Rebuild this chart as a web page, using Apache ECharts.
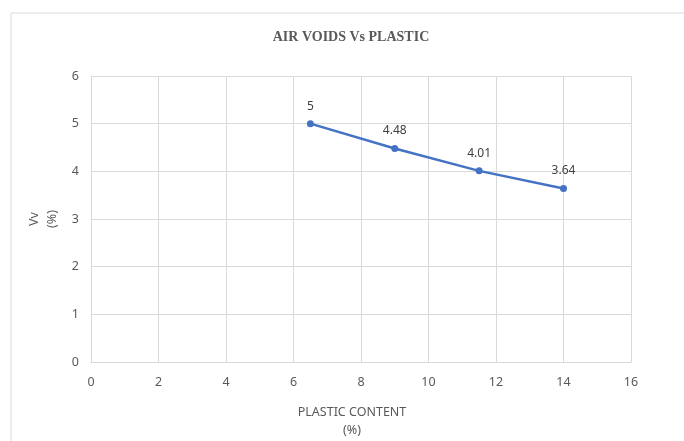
<!DOCTYPE html>
<html><head><meta charset="utf-8">
<script src="https://cdn.jsdelivr.net/npm/echarts@6/dist/echarts.min.js"></script>
<style>html,body{margin:0;padding:0;background:#fff}#c{width:684px;height:441px}</style>
</head><body><div id="c"></div>
<script>
const xValues = [6.5, 9, 11.5, 14];
const yValues = [5, 4.48, 4.01, 3.64];
const labels = ['5', '4.48', '4.01', '3.64'];
const titleText = 'AIR VOIDS Vs PLASTIC';
const xName = 'PLASTIC CONTENT\n(%)';
const yName = 'Vv\n(%)';

const chart = echarts.init(document.getElementById('c'), null, {renderer: 'canvas'});
const font = '"Noto Sans", "Open Sans", sans-serif';
chart.setOption({
  animation: false,
  backgroundColor: '#fff',
  graphic: [
    {type: 'line', shape: {x1: 11, y1: 13, x2: 684, y2: 13}, style: {stroke: '#d9d9d9', lineWidth: 1}, silent: true},
    {type: 'line', shape: {x1: 11, y1: 13, x2: 11, y2: 441}, style: {stroke: '#d9d9d9', lineWidth: 1}, silent: true}
  ],
  title: {
    text: titleText, left: 346, top: 25, textAlign: 'center',
    textStyle: {fontFamily: '"Liberation Serif", "DejaVu Serif", serif', fontWeight: 'bold', fontSize: 14, color: '#595959'}
  },
  grid: {left: 91, right: 53, top: 76, bottom: 79, containLabel: false, outerBoundsMode: 'none'},
  xAxis: {
    type: 'value', min: 0, max: 16, interval: 2,
    name: xName, nameLocation: 'middle', nameGap: 41,
    nameTextStyle: {fontFamily: font, fontSize: 12.5, color: '#595959', lineHeight: 18, padding: [0, 18, 0, 0]},
    axisLine: {show: true, lineStyle: {color: '#d9d9d9'}},
    axisTick: {show: false},
    axisLabel: {fontFamily: font, fontSize: 12.5, color: '#595959', margin: 14},
    splitLine: {show: true, lineStyle: {color: '#d9d9d9'}}
  },
  yAxis: {
    type: 'value', min: 0, max: 6, interval: 1,
    name: yName, nameLocation: 'middle', nameGap: 30, nameRotate: 90,
    nameTextStyle: {fontFamily: font, fontSize: 12.5, color: '#595959', lineHeight: 18},
    axisLine: {show: true, lineStyle: {color: '#d9d9d9'}},
    axisTick: {show: false},
    axisLabel: {fontFamily: font, fontSize: 12.5, color: '#595959', margin: 12},
    splitLine: {show: true, lineStyle: {color: '#d9d9d9'}}
  },
  series: [{
    type: 'line',
    data: xValues.map((x, i) => [x, yValues[i]]),
    symbol: 'circle', symbolSize: 7,
    lineStyle: {color: '#4472C4', width: 2.5},
    itemStyle: {color: '#4472C4'},
    label: {show: true, position: 'top', distance: 8, fontFamily: font, fontSize: 12, color: '#404040',
      formatter: p => labels[p.dataIndex]}
  }]
});
</script></body></html>
